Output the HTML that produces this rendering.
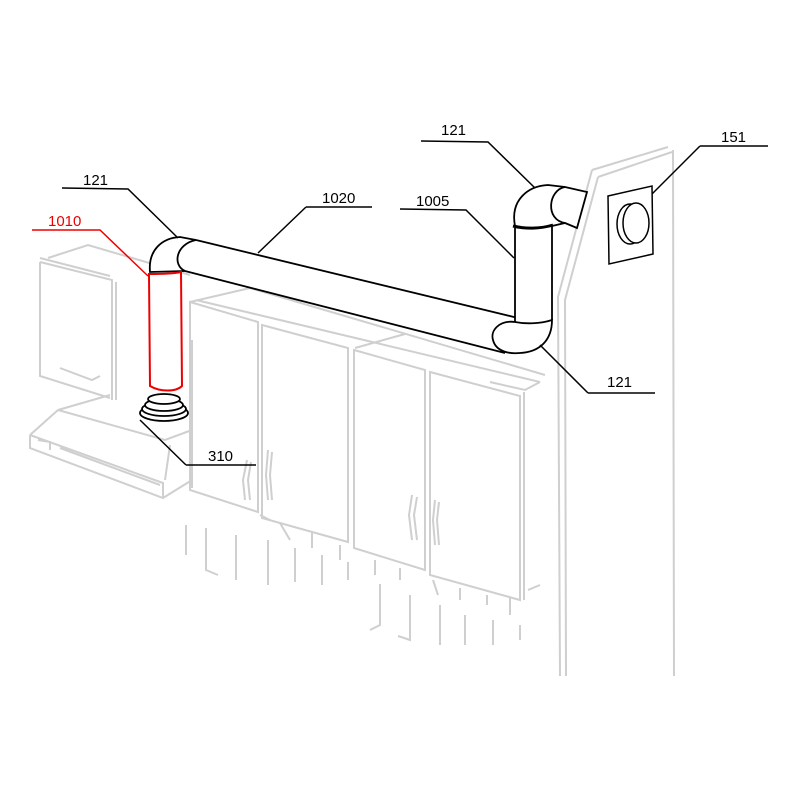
<!DOCTYPE html>
<html><head><style>body{margin:0;background:#fff}svg{display:block}text{font-family:"Liberation Sans",sans-serif;font-size:15px}</style></head>
<body>
<svg width="800" height="800" viewBox="0 0 800 800" xmlns="http://www.w3.org/2000/svg">
<g fill="none" stroke="#cfcfcf" stroke-width="2">
<path d="M592 170 L668 147 M598 177 L672 152 M673 150 L674 676 M592 170 L558 297 L560 676 M598 177 L565 300 L566 676"/>
<path d="M48 258 L88 245 L190 275 M40 262 L112 280 L112 400 M40 262 L40 376 L110 398 M116 282 L116 400 M60 368 L92 380 L100 376 M40 258 L110 276"/>
<path d="M58 410 L110 395 M58 410 L165 440 L192 430 M30 435 L58 410 M30 435 L30 448 L163 498 L192 480 M163 498 L163 483 L30 435 M38 440 L50 442 L50 450 M60 448 L160 485 M150 405 L180 412 M170 445 L165 480"/>
<path d="M190 302 L250 288 L545 375 M196 300 L540 382 M355 348 L405 334 M490 382 L525 390 L540 382"/>
<path d="M190 302 L258 322 L258 512 L190 490 Z M192 340 L192 488"/>
<path d="M262 325 L348 348 L348 542 L262 518 Z"/>
<path d="M354 350 L425 370 L425 570 L354 548 Z"/>
<path d="M430 372 L520 396 L520 600 L430 575 Z M524 392 L524 600"/>
<path d="M247 460 L243 480 L245 500 M251 462 L248 480 L250 500 M268 450 L266 475 L268 500 M272 452 L270 475 L272 500 M412 495 L409 515 L412 540 M417 497 L414 515 L417 540 M435 500 L433 520 L435 545 M439 502 L437 520 L439 545"/>
<path d="M186 525 L186 555 M206 528 L206 570 L218 575 M236 535 L236 580 M268 540 L268 585 M295 548 L295 582 M322 555 L322 585 M348 562 L348 580 M260 515 L270 520 M280 523 L290 540 M312 533 L312 548 M340 545 L340 560 M375 560 L375 575 M400 568 L400 580 M380 584 L380 625 L370 630 M410 595 L410 640 L398 636 M440 605 L440 645 M465 615 L465 645 M493 620 L493 645 M520 625 L520 640 M433 580 L438 595 M460 588 L460 600 M487 595 L487 605 M510 598 L510 615 M528 590 L540 585"/>
</g>
<g fill="#fff" stroke="#000" stroke-width="1.8">
<path d="M196 240 L518 318 L505 353 L185 271 Z" stroke="none"/>
<path d="M196 240 L518 318 M185 271 L505 353" fill="none"/>
<path d="M150 272 C148 250 162 238 180 237 L196 240 C176 244 172 265 185 271 Z"/>
<path d="M515 228 L552 226 L552 320 L515 322 Z" stroke="none"/>
<path d="M515 228 L515 322 M552 226 L552 320" fill="none"/>
<path d="M515 322 C500 320 490 330 493 340 C496 352 510 354 520 353 C540 352 552 340 552 320 C540 324 525 324 515 322 Z"/>
<path d="M515 226 C510 200 528 186 548 185 L565 187 L587 192 L577 228 L565 223 L552 226 C540 228 525 228 515 226 Z"/>
<path d="M565 187 C548 190 545 220 565 223"/>
<path d="M513 226 C525 229 540 229 553 225" stroke-width="3"/>
<path d="M608 196 L652 186 L653 254 L609 264 Z" stroke-width="1.5"/>
<ellipse cx="630" cy="224" rx="13" ry="20" stroke-width="1.5"/>
<ellipse cx="636" cy="223" rx="13" ry="20" stroke-width="1.5"/>
<ellipse cx="164" cy="413" rx="24" ry="8"/>
<ellipse cx="164" cy="409" rx="22" ry="7"/>
<ellipse cx="164" cy="405" rx="19" ry="6"/>
<ellipse cx="164" cy="399" rx="16" ry="5"/>
</g>
<g fill="#fff" stroke="#e00" stroke-width="2">
<path d="M149 274 L150 386 C160 392 176 392 182 386 L181 272 C172 274 160 274 149 274 Z"/>
</g>
<g fill="none" stroke="#000" stroke-width="1.5">
<path d="M62 188 L128 189 L178 238"/>
<path d="M306 207 L372 207 M306 207 L258 253"/>
<path d="M400 209 L466 210 L514 258"/>
<path d="M421 141 L488 142 L535 188"/>
<path d="M700 146 L768 146 M700 146 L652 194"/>
<path d="M588 393 L655 393 M588 393 L540 345"/>
<path d="M186 465 L256 465 M186 465 L140 420"/>
</g>
<path d="M32 230 L100 230 L148 276" fill="none" stroke="#e00" stroke-width="1.5"/>
<text x="83" y="185">121</text>
<text x="48" y="226" fill="#e00">1010</text>
<text x="322" y="203">1020</text>
<text x="416" y="206">1005</text>
<text x="441" y="135">121</text>
<text x="721" y="142">151</text>
<text x="607" y="387">121</text>
<text x="208" y="461">310</text>
</svg>
</body></html>
